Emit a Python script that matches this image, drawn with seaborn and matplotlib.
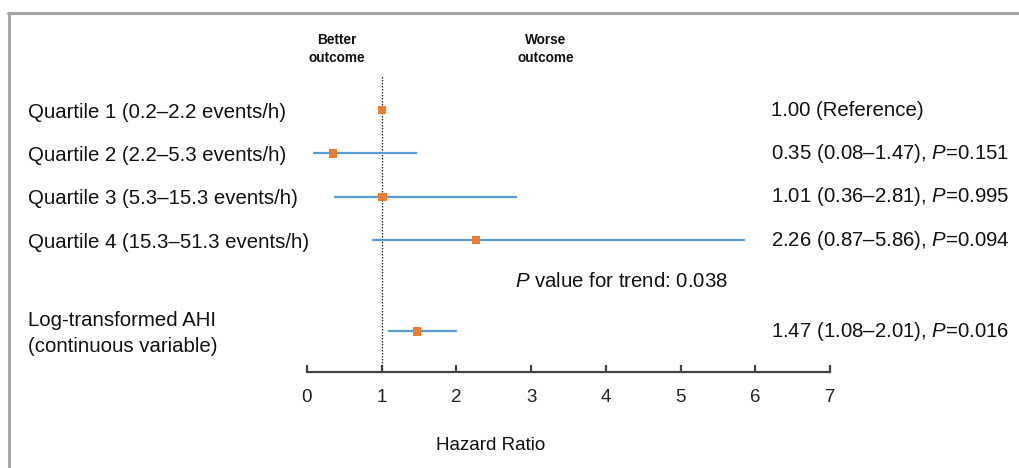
import matplotlib
matplotlib.use("Agg")
import matplotlib.pyplot as plt
from matplotlib.lines import Line2D
from matplotlib.transforms import blended_transform_factory
import seaborn as sns
import pandas as pd

# ---- data ----
labels = ["Quartile 1 (0.2\u20132.2 events/h)",
          "Quartile 2 (2.2\u20135.3 events/h)",
          "Quartile 3 (5.3\u201315.3 events/h)",
          "Quartile 4 (15.3\u201351.3 events/h)",
          "Log-transformed AHI\n(continuous variable)"]
hr = [1.00, 0.35, 1.01, 2.26, 1.47]
lo = [1.00, 0.08, 0.36, 0.87, 1.08]
hi = [1.00, 1.47, 2.81, 5.86, 2.01]
pvals = [None, "0.151", "0.995", "0.094", "0.016"]
row_pos = [0, 1, 2, 3, 5.1]
trend_pos = 3.95
trend_text = "P value for trend: 0.038"
xticks = [0, 1, 2, 3, 4, 5, 6, 7]

sns.set_style("white")
plt.rcParams["font.family"] = ["Liberation Sans", "DejaVu Sans"]
plt.rcParams["mathtext.fontset"] = "custom"
plt.rcParams["mathtext.rm"] = "Liberation Sans"
plt.rcParams["mathtext.it"] = "Liberation Sans:italic"

W, H = 1020, 468
fig = plt.figure(figsize=(W / 100, H / 100), dpi=100)
fig.patch.set_facecolor("white")

def fx(px):
    return px / W

def fy(py):
    return 1 - py / H

FS = 14.7
ax = fig.add_axes([fx(307), fy(372), fx(830) - fx(307), fy(75) - fy(372)])
y0, dy = 110, 43.4
ax.set_ylim((372 - y0) / dy, (75 - y0) / dy)
ax.set_xlim(0, 7)

df = pd.DataFrame({"label": labels, "hr": hr, "lo": lo, "hi": hi, "y": row_pos})

blue = "#5B9BD5"
orange = "#ED7D31"
ax.axvline(1, color="#222222", ls=(0, (1.2, 1.2)), lw=0.9, zorder=1)
ax.hlines(df["y"], df["lo"], df["hi"], color=blue, lw=1.6, zorder=2)
sns.scatterplot(data=df, x="hr", y="y", marker="s", color=orange, s=36,
                edgecolor="none", zorder=3, ax=ax, legend=False)

ax.set_xticks(xticks)
ax.set_xticklabels([str(t) for t in xticks], fontsize=13.5, color="#222222")
ax.set_yticks([])
ax.set_xlabel("")
ax.set_ylabel("")
for s in ["left", "top", "right"]:
    ax.spines[s].set_visible(False)
ax.spines["bottom"].set_color("#444444")
ax.spines["bottom"].set_linewidth(1.6)
ax.tick_params(axis="x", direction="in", length=5, width=1.6, color="#444444",
               pad=12, bottom=True)
ax.set_facecolor("white")

trans = blended_transform_factory(fig.transFigure, ax.transData)
for lab, y in zip(labels, row_pos):
    ax.text(fx(28), y + 0.05, lab, transform=trans, fontsize=FS, va="center",
            ha="left", color="#111111", linespacing=1.42)

for h, l, u, p, y in zip(hr, lo, hi, pvals, row_pos):
    if p is None:
        s = f"{h:.2f} (Reference)"
    else:
        s = f"{h:.2f} ({l:.2f}\u2013{u:.2f}), $\\it{{P}}$=" + p
    ax.text(fx(771), y, s, transform=trans, fontsize=FS, va="center",
            ha="left", color="#111111")

ax.text(fx(515), trend_pos, "$\\it{P}$" + trend_text[1:], transform=trans,
        fontsize=FS, va="center", ha="left", color="#111111")

fig.text(fx(337), fy(49), "Better\noutcome", fontsize=9.8, ha="center",
         va="center", color="#111111", linespacing=1.35, fontweight="bold")
fig.text(fx(546), fy(49), "Worse\noutcome", fontsize=9.8, ha="center",
         va="center", color="#111111", linespacing=1.35, fontweight="bold")
fig.text(fx(491), fy(445), "Hazard Ratio", fontsize=13.5, ha="center",
         va="center", color="#111111")

# frame (top and left edges)
fig.add_artist(Line2D([fx(8), 1.0], [fy(13), fy(13)], color="#A6A6A6", lw=2.2,
                      transform=fig.transFigure))
fig.add_artist(Line2D([fx(9), fx(9)], [fy(13), 0.0], color="#A6A6A6", lw=2.2,
                      transform=fig.transFigure))

fig.savefig("out.png", dpi=100, facecolor="white")
